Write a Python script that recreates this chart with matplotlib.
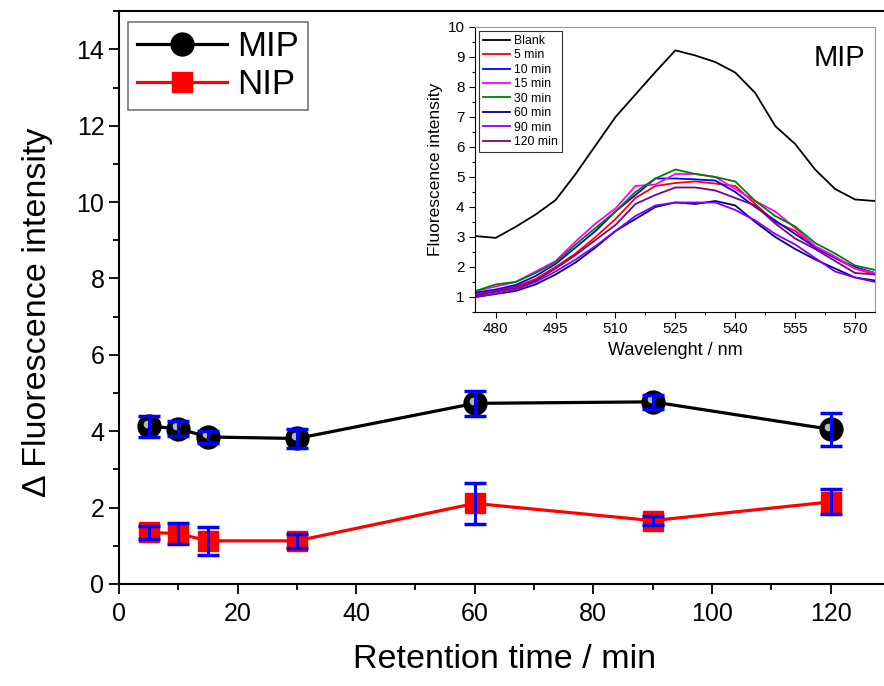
import matplotlib.pyplot as plt
from matplotlib.ticker import MultipleLocator
from matplotlib.transforms import offset_copy

plt.rcParams['font.family'] = ['Liberation Sans', 'DejaVu Sans']

# main data
time = [5, 10, 15, 30, 60, 90, 120]
mip = [4.13, 4.07, 3.85, 3.81, 4.73, 4.77, 4.05]
mip_err = [0.28, 0.2, 0.15, 0.25, 0.32, 0.18, 0.43]
nip = [1.35, 1.32, 1.13, 1.13, 2.11, 1.66, 2.15]
nip_err = [0.17, 0.28, 0.37, 0.18, 0.53, 0.12, 0.33]

# inset spectra
wl = [475, 480, 485, 490, 495, 500, 505, 510, 515, 520, 525,
      530, 535, 540, 545, 550, 555, 560, 565, 570, 575]
blank = [3.03, 2.97, 3.34, 3.75, 4.23, 5.1, 6.05, 7.0, 7.75, 8.5, 9.22,
         9.05, 8.83, 8.48, 7.8, 6.7, 6.1, 5.25, 4.6, 4.25, 4.2]
m5 = [1.1, 1.2, 1.35, 1.6, 2.0, 2.45, 3.0, 3.6, 4.3, 4.7, 4.8,
      4.85, 4.78, 4.7, 4.1, 3.5, 3.2, 2.65, 2.3, 1.95, 1.75]
m10 = [1.15, 1.25, 1.4, 1.7, 2.1, 2.65, 3.2, 3.85, 4.4, 4.95, 4.95,
       4.92, 4.88, 4.5, 4.0, 3.55, 3.1, 2.65, 2.3, 2.0, 1.8]
m15 = [1.2, 1.35, 1.5, 1.85, 2.2, 2.85, 3.45, 3.95, 4.7, 4.75, 5.1,
       5.1, 5.0, 4.6, 4.2, 3.85, 3.3, 2.7, 2.35, 1.95, 1.8]
m30 = [1.2, 1.42, 1.5, 1.8, 2.15, 2.75, 3.3, 3.85, 4.5, 4.95, 5.25,
       5.1, 5.0, 4.85, 4.2, 3.7, 3.35, 2.8, 2.45, 2.05, 1.9]
m60 = [1.0, 1.1, 1.2, 1.42, 1.75, 2.15, 2.65, 3.2, 3.6, 4.0, 4.15,
       4.1, 4.2, 4.05, 3.5, 3.0, 2.6, 2.25, 1.95, 1.65, 1.55]
m90 = [1.0, 1.12, 1.25, 1.5, 1.85, 2.25, 2.7, 3.2, 3.7, 4.05, 4.15,
       4.15, 4.15, 3.9, 3.55, 3.1, 2.75, 2.3, 1.85, 1.65, 1.5]
m120 = [1.05, 1.18, 1.3, 1.55, 1.95, 2.4, 2.9, 3.4, 4.1, 4.4, 4.65,
        4.65, 4.55, 4.3, 4.05, 3.45, 2.95, 2.6, 2.2, 1.8, 1.75]
spectra = [blank, m5, m10, m15, m30, m60, m90, m120]
spec_labels = ['Blank', '5 min', '10 min', '15 min', '30 min', '60 min', '90 min', '120 min']
spec_colors = ['black', 'red', 'blue', 'magenta', 'green', 'navy', '#8000ff', 'purple']

fig = plt.figure(figsize=(8.84, 6.86), dpi=100)
ax = fig.add_axes([0.1346, 0.1487, 0.872, 0.835])

ax.plot(time, mip, color='black', lw=2.3, marker='o', ms=16.5, mfc='black', mec='black', label='MIP', zorder=2)
hl = offset_copy(ax.transData, fig=fig, x=-1.5, y=2, units='points')
ax.plot(time, mip, ls='none', marker='o', ms=5.5, mfc='#b8b8b8', mec='none', transform=hl, zorder=3)
ax.plot(time, nip, color='red', lw=2.3, marker='s', ms=14.5, mfc='red', mec='red', label='NIP', zorder=2)
ax.errorbar(time, mip, yerr=mip_err, fmt='none', ecolor='blue', elinewidth=2.2, capsize=8, capthick=2.5, zorder=4)
ax.errorbar(time, nip, yerr=nip_err, fmt='none', ecolor='blue', elinewidth=2.2, capsize=8, capthick=2.5, zorder=4)

ax.set_xlim(0, 130)
ax.set_ylim(0, 15)
ax.xaxis.set_major_locator(MultipleLocator(20))
ax.xaxis.set_minor_locator(MultipleLocator(10))
ax.yaxis.set_major_locator(MultipleLocator(2))
ax.yaxis.set_minor_locator(MultipleLocator(1))
ax.tick_params(which='major', direction='out', length=7, width=1.3, labelsize=18)
ax.tick_params(axis='x', which='major', pad=6)
ax.tick_params(which='minor', direction='out', length=4, width=1.3)
ax.spines['right'].set_visible(False)
for s in ['left', 'bottom', 'top']:
    ax.spines[s].set_linewidth(1.5)
ax.set_xlabel('Retention time / min', fontsize=24.5, labelpad=13)
ax.set_ylabel('\u0394 Fluorescence intensity', fontsize=24.5)
ax.yaxis.set_label_coords(-0.086, 0.475)

leg = ax.legend(loc='upper left', bbox_to_anchor=(-0.002, 1.0), fontsize=25, handlelength=2.6,
                frameon=True, fancybox=False, edgecolor='#555555', borderpad=0.25,
                labelspacing=0.15, handletextpad=0.3, borderaxespad=0.3)
leg.get_frame().set_linewidth(1.2)

# inset
ins = fig.add_axes([0.5373, 0.5452, 0.4525, 0.4155])
for y, lab, c in zip(spectra, spec_labels, spec_colors):
    ins.plot(wl, y, color=c, lw=1.3, label=lab)
ins.set_xlim(474.8, 575)
ins.set_ylim(0.5, 10)
ins.xaxis.set_minor_locator(MultipleLocator(7.5))
ins.set_xticks([480, 495, 510, 525, 540, 555, 570])
ins.yaxis.set_major_locator(MultipleLocator(1))
ins.yaxis.set_minor_locator(MultipleLocator(0.5))
ins.tick_params(which='major', direction='out', length=4, width=0.8, labelsize=11)
ins.tick_params(which='minor', direction='out', length=2, width=0.8)
ins.spines['top'].set_color('#999999')
ins.spines['right'].set_color('#999999')
ins.set_xlabel('Wavelenght / nm', fontsize=13, labelpad=4)
ins.set_ylabel('Fluorescence intensity', fontsize=12.5, labelpad=3)
ins.text(0.975, 0.94, 'MIP', transform=ins.transAxes, fontsize=21, ha='right', va='top')
il = ins.legend(loc='upper left', fontsize=8.8, handlelength=2.2, frameon=True, fancybox=False,
                edgecolor='black', borderpad=0.3, labelspacing=0.2, handletextpad=0.35,
                borderaxespad=0.35)
il.get_frame().set_linewidth(0.8)

fig.savefig('out.png', dpi=100)
